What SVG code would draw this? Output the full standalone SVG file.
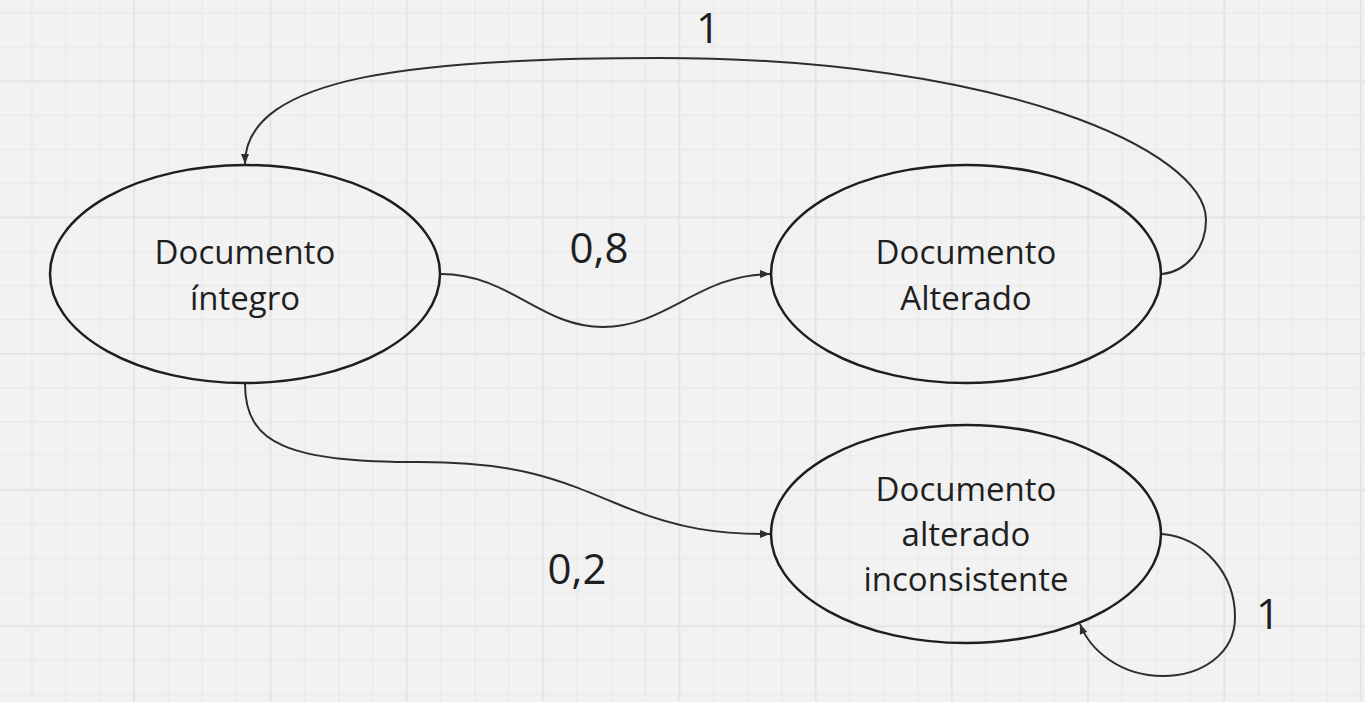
<svg xmlns="http://www.w3.org/2000/svg" width="1365" height="702" viewBox="0 0 1365 702">
  <defs>
    <pattern id="minor" patternUnits="userSpaceOnUse" x="31.3" y="12.3" width="34.07" height="34.07">
      <rect x="0" y="0" width="1.4" height="34.07" fill="#eaeaea"/>
      <rect x="0" y="0" width="34.07" height="1.4" fill="#eaeaea"/>
    </pattern>
    <pattern id="major" patternUnits="userSpaceOnUse" x="133.3" y="80.3" width="136.28" height="136.28">
      <rect x="0" y="0" width="1.6" height="136.28" fill="#e4e4e4"/>
      <rect x="0" y="0" width="136.28" height="1.6" fill="#e4e4e4"/>
    </pattern>
    <marker id="arrow" markerUnits="userSpaceOnUse" markerWidth="11" markerHeight="9" refX="10" refY="4" orient="auto">
      <path d="M0,0 L10,4 L0,8 z" fill="#2e2e2e"/>
    </marker>
    <style>
      .node { fill: none; stroke: #1e1e1e; stroke-width: 2.5; }
      .label { font-family: "Open Sans", "Noto Sans", "DejaVu Sans", sans-serif; font-size: 33px; fill: #1f1f1f; text-anchor: middle; }
      .edge { fill: none; stroke: #2e2e2e; stroke-width: 2; marker-end: url(#arrow); }
      .elabel { font-family: "Open Sans", "Noto Sans", "DejaVu Sans", sans-serif; font-size: 42px; fill: #1f1f1f; text-anchor: middle; }
    </style>
  </defs>
  <rect x="0" y="0" width="1365" height="702" fill="#f2f2f2"/>
  <rect x="0" y="0" width="1365" height="702" fill="url(#minor)"/>
  <rect x="0" y="0" width="1365" height="702" fill="url(#major)"/>

  <g id="connectors">
    <path class="edge" d="M441,274 C510,274 540,327 603,327 C666,327 700,274 770,274"/>
    <path class="edge" d="M245,384 C245,445 290,462 420,462 C520,462 560,480 620,505 C680,530 720,534 770,534"/>
    <path class="edge" d="M1162,274 C1185,272 1206,250 1206,220 C1206,150 1000,58 660,58 C420,58 245,75 245,164"/>
    <path class="edge" d="M1162,534 C1205,538 1235,575 1235,617 C1235,655 1200,676 1163,676 C1120,676 1090,650 1080,624"/>
    <text class="elabel" x="599" y="263">0,8</text>
    <text class="elabel" x="577" y="584">0,2</text>
    <text class="elabel" x="708" y="43">1</text>
    <text class="elabel" x="1268" y="629">1</text>
  </g>

  <g id="node-integro">
    <ellipse class="node" cx="245" cy="274" rx="195" ry="109"/>
    <text class="label" x="245" y="264">Documento</text>
    <text class="label" x="245" y="310">íntegro</text>
  </g>

  <g id="node-alterado">
    <ellipse class="node" cx="966" cy="274" rx="195" ry="109"/>
    <text class="label" x="966" y="264">Documento</text>
    <text class="label" x="966" y="310">Alterado</text>
  </g>

  <g id="node-inconsistente">
    <ellipse class="node" cx="966" cy="534" rx="195" ry="109"/>
    <text class="label" x="966" y="501">Documento</text>
    <text class="label" x="966" y="546">alterado</text>
    <text class="label" x="966" y="591">inconsistente</text>
  </g>
</svg>
